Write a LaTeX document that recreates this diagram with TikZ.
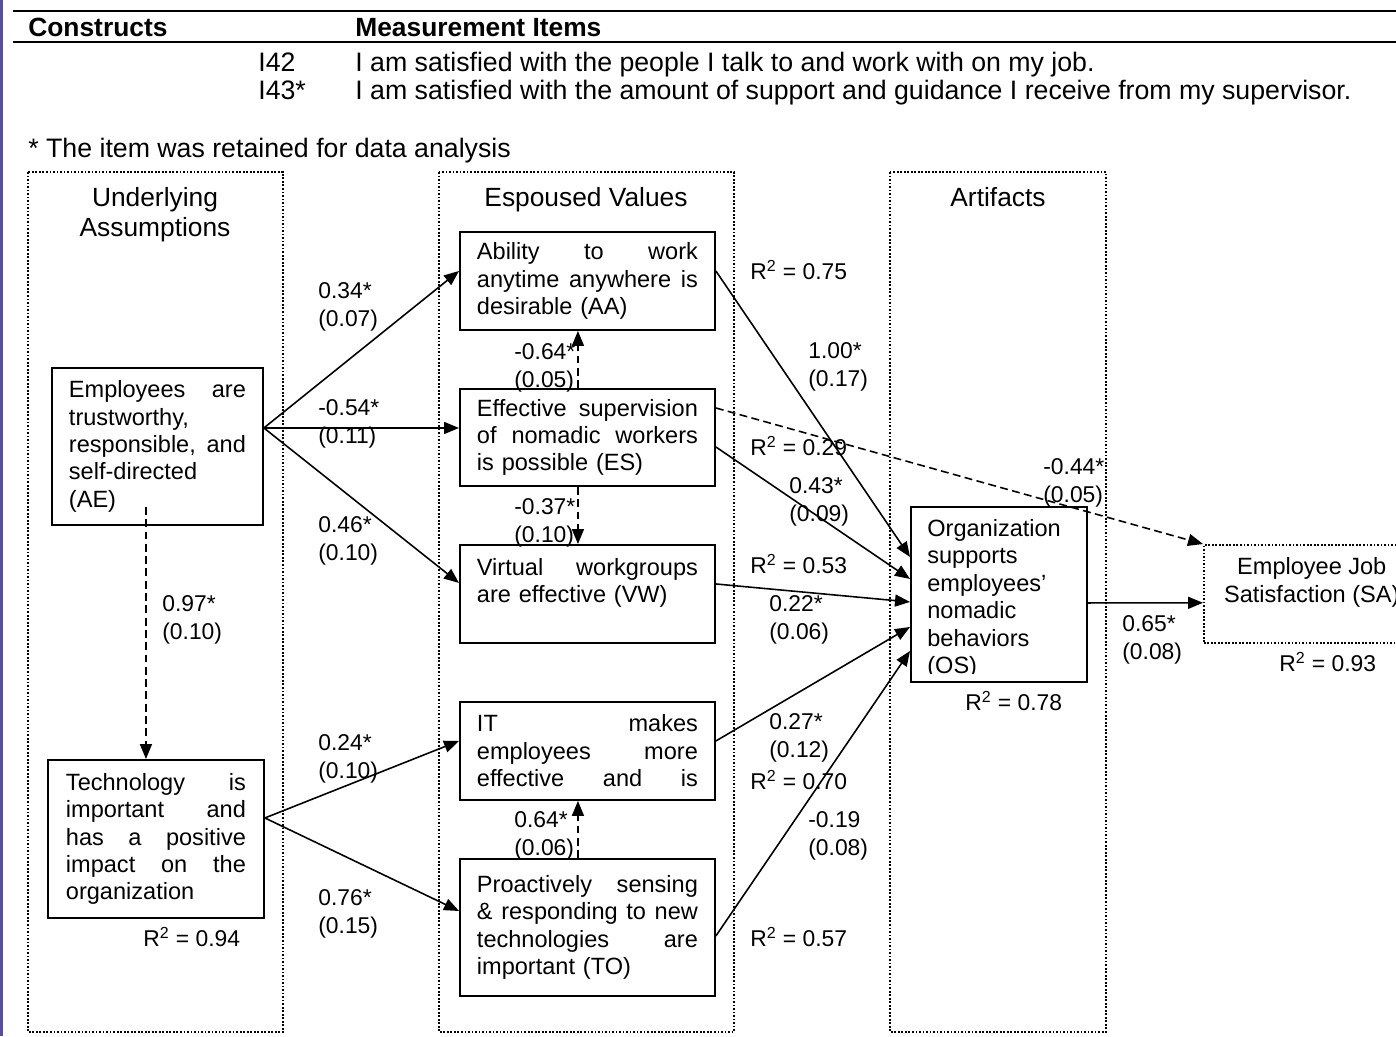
\documentclass[tikz,border=0pt]{standalone}
\usepackage{fontspec}
\setmainfont{Liberation Sans}
\usetikzlibrary{arrows.meta,positioning,calc}

\definecolor{edgepurple}{RGB}{88,78,160}

\begin{document}
\begin{tikzpicture}[
  x=0.02cm, y=-0.02cm,
  font=\fontsize{13.4}{15.6}\selectfont,
  box/.style={rectangle, draw, line width=1.1pt, anchor=north west,
              align=left, inner xsep=0.34cm, inner ysep=0pt},
  satbox/.style={rectangle, draw, line width=0.9pt, dash pattern=on 1pt off 1pt,
                 anchor=north west, align=center, inner sep=0pt},
  grp/.style={draw, line width=0.9pt, dash pattern=on 1pt off 1pt},
  ttl/.style={align=center, inner sep=0pt, font=\fontsize{15}{17}\selectfont},
  coef/.style={anchor=north west, align=left, inner sep=0pt,
               font=\fontsize{13}{15.5}\selectfont},
  rsq/.style={anchor=base west, inner sep=0pt, font=\fontsize{13}{15.5}\selectfont},
  hdr/.style={anchor=base west, inner sep=0pt, font=\fontsize{15.2}{17}\selectfont},
  arr/.style={-{Triangle[length=0.3cm, width=0.24cm]}, line width=0.9pt},
  dasharr/.style={arr, dash pattern=on 4.5pt off 2.5pt}
]
\clip (0,0) rectangle (1396,1036);
\fill[edgepurple] (0,0) rectangle (3,1036);

% ---- Header table ----
\draw[line width=1.1pt] (13,11) -- (1396,11);
\draw[line width=1.1pt] (13,42) -- (1396,42);
\node[hdr, font=\bfseries\fontsize{15}{17}\selectfont] (constr) at (28,36.5) {Constructs};
\node[hdr, font=\bfseries\fontsize{15}{17}\selectfont] (meas) at (355,36.5) {Measurement Items};
\node[hdr] (i42)    at (258,71.5) {I42};
\node[hdr] (i42txt) at (355,71.5) {I am satisfied with the people I talk to and work with on my job.};
\node[hdr] (i43)    at (258,99.5) {I43*};
\node[hdr] (i43txt) at (355,99.5) {I am satisfied with the amount of support and guidance I receive from my supervisor.};
\node[hdr] (note)   at (28,157.5) {* The item was retained for data analysis};

% ---- Group frames ----
\draw[grp] (28,172) rectangle (283,1032);
\draw[grp] (439,172) rectangle (734,1032);
\draw[grp] (890,172) rectangle (1106,1032);
\node[ttl, anchor=north] (uatitle) at (155,187.5) {Underlying\\Assumptions};
\node[ttl, anchor=base]  (evtitle) at (586,206.5) {Espoused Values};
\node[ttl, anchor=base]  (artitle) at (998,206.5) {Artifacts};

% ---- Underlying assumptions ----
\node[box, text width=3.54cm, minimum height=3.14cm] (ae) at (51,367)
  {Employees\hfill are\\trustworthy,\\responsible,\hfill and\\self-directed\\(AE)};
\node[box, text width=3.6cm, inner xsep=0.36cm, minimum height=3.16cm] (te) at (47,759)
  {Technology\hfill is\\important\hfill and\\has\hfill a\hfill positive\\impact\hfill on\hfill the\\organization};

% ---- Espoused values ----
\node[box, text width=4.42cm, minimum height=1.96cm] (aa) at (459,231)
  {Ability\hfill to\hfill work\\anytime\hfill anywhere\hfill is\\desirable (AA)};
\node[box, text width=4.42cm, minimum height=1.94cm] (es) at (459,388)
  {Effective\hfill supervision\\of\hfill nomadic\hfill workers\\is possible (ES)};
\node[box, text width=4.42cm, minimum height=1.96cm] (vw) at (459,544)
  {Virtual\hfill workgroups\\are effective (VW)\\\mbox{}};
\node[box, text width=4.42cm, minimum height=1.96cm] (it) at (459,701)
  {IT\hfill makes\\employees\hfill more\\effective\hfill and\hfill is};
\node[box, text width=4.42cm, minimum height=2.74cm] (to) at (459,858)
  {Proactively\hfill sensing\\\&\hfill responding\hfill to\hfill new\\technologies\hfill are\\important (TO)};

% ---- Artifacts and outcome ----
\node[box, minimum width=3.52cm, minimum height=3.5cm, inner sep=0pt] (os) at (910,506) {};
\begin{scope}
  \clip (os.north west) rectangle ([yshift=0.18cm]os.south east);
  \node[anchor=north west, align=left, inner sep=0pt] (ostext) at (927,519)
    {Organization\\supports\\employees’\\nomadic\\behaviors\\(OS)};
\end{scope}
\node[satbox, minimum width=4.32cm, minimum height=1.96cm] (sa) at (1203,544)
  {Employee Job\\Satisfaction (SA)\\\mbox{}};

% ---- Paths ----
\draw[arr] ([yshift=0.37cm]ae.east) -- ([yshift=0.2cm]aa.west);
\draw[arr] ([yshift=0.37cm]ae.east) -- ([yshift=0.19cm]es.west);
\draw[arr] ([yshift=0.37cm]ae.east) -- ([yshift=0.22cm]vw.west);
\draw[dasharr] ([xshift=-0.23cm,yshift=0.38cm]ae.south) -- ([xshift=-0.23cm]ae.south |- te.north);
\draw[arr] ([yshift=0.42cm]te.east) -- ([yshift=0.2cm]it.west);
\draw[arr] ([yshift=0.42cm]te.east) -- ([yshift=0.33cm]to.west);
\draw[dasharr] ([xshift=-0.19cm]es.north) -- ([xshift=-0.19cm]aa.south);
\draw[dasharr] ([xshift=-0.19cm]es.south) -- ([xshift=-0.19cm]vw.north);
\draw[dasharr] ([xshift=-0.19cm]to.north) -- ([xshift=-0.19cm]it.south);
\draw[arr] ([yshift=0.2cm]aa.east)   -- ([yshift=0.75cm]os.west);
\draw[arr] ([yshift=-0.19cm]es.east) -- ([yshift=0.31cm]os.west);
\draw[arr] ([yshift=0.2cm]vw.east)   -- ([yshift=-0.15cm]os.west);
\draw[arr] ([yshift=0.2cm]it.east)   -- ([yshift=-0.65cm]os.west);
\draw[arr] ([yshift=-0.17cm]to.east) -- ([yshift=-1.13cm]os.west);
\draw[dasharr] ([yshift=0.59cm]es.east) -- (sa.north west);
\draw[arr] ([yshift=-0.17cm]os.east) -- ([yshift=-0.18cm]sa.west);

% ---- Coefficients ----
\node[coef] (c34)  at (318,282.5) {0.34*\\(0.07)};
\node[coef] (c54)  at (318,399.5) {-0.54*\\(0.11)};
\node[coef] (c46)  at (318,516.5) {0.46*\\(0.10)};
\node[coef] (c97)  at (162,595.5) {0.97*\\(0.10)};
\node[coef] (c24)  at (318,734.5) {0.24*\\(0.10)};
\node[coef] (c76)  at (318,889.5) {0.76*\\(0.15)};
\node[coef] (c64a) at (514,343.5) {-0.64*\\(0.05)};
\node[coef] (c37)  at (514,498.5) {-0.37*\\(0.10)};
\node[coef] (c64b) at (514,811.5) {0.64*\\(0.06)};
\node[coef] (c100) at (808,342.5) {1.00*\\(0.17)};
\node[coef] (c43)  at (789,477.5) {0.43*\\(0.09)};
\node[coef] (c44)  at (1043,458.5) {-0.44*\\(0.05)};
\node[coef] (c22)  at (769,595.5) {0.22*\\(0.06)};
\node[coef] (c27)  at (769,713.5) {0.27*\\(0.12)};
\node[coef] (c19)  at (808,811.5) {-0.19\\(0.08)};
\node[coef] (c65)  at (1122,615.5) {0.65*\\(0.08)};

% ---- R squared ----
\node[rsq] (r75) at (750,279.5) {R\textsuperscript{2} = 0.75};
\node[rsq] (r29) at (750,455.5) {R\textsuperscript{2} = 0.29};
\node[rsq] (r53) at (750,573.5) {R\textsuperscript{2} = 0.53};
\node[rsq] (r70) at (750,789.5) {R\textsuperscript{2} = 0.70};
\node[rsq] (r57) at (750,946.5) {R\textsuperscript{2} = 0.57};
\node[rsq] (r94) at (143,946.5) {R\textsuperscript{2} = 0.94};
\node[rsq] (r78) at (965,710.5) {R\textsuperscript{2} = 0.78};
\node[rsq] (r93) at (1279,671.5) {R\textsuperscript{2} = 0.93};

\end{tikzpicture}
\end{document}
